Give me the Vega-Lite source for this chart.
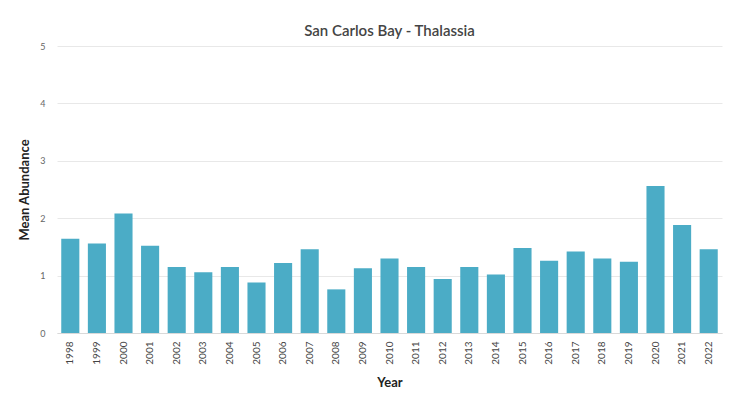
{
  "$schema": "https://vega.github.io/schema/vega-lite/v6.json",
  "width": 665,
  "height": 287,
  "autosize": "none",
  "padding": {"left": 57, "top": 46, "right": 13, "bottom": 65},
  "background": "white",
  "title": {
    "text": "San Carlos Bay - Thalassia",
    "font": "Lato",
    "fontSize": 15,
    "fontWeight": 600,
    "color": "#444444",
    "anchor": "middle",
    "offset": 3
  },
  "data": {
    "values": [
      {"Year": "1998", "Mean": 1.64},
      {"Year": "1999", "Mean": 1.56},
      {"Year": "2000", "Mean": 2.08},
      {"Year": "2001", "Mean": 1.52},
      {"Year": "2002", "Mean": 1.15},
      {"Year": "2003", "Mean": 1.06},
      {"Year": "2004", "Mean": 1.15},
      {"Year": "2005", "Mean": 0.88},
      {"Year": "2006", "Mean": 1.22},
      {"Year": "2007", "Mean": 1.46},
      {"Year": "2008", "Mean": 0.76},
      {"Year": "2009", "Mean": 1.13},
      {"Year": "2010", "Mean": 1.30},
      {"Year": "2011", "Mean": 1.15},
      {"Year": "2012", "Mean": 0.94},
      {"Year": "2013", "Mean": 1.15},
      {"Year": "2014", "Mean": 1.02},
      {"Year": "2015", "Mean": 1.48},
      {"Year": "2016", "Mean": 1.26},
      {"Year": "2017", "Mean": 1.42},
      {"Year": "2018", "Mean": 1.30},
      {"Year": "2019", "Mean": 1.24},
      {"Year": "2020", "Mean": 2.56},
      {"Year": "2021", "Mean": 1.88},
      {"Year": "2022", "Mean": 1.46}
    ]
  },
  "mark": {"type": "bar", "color": "#4BACC6"},
  "encoding": {
    "x": {
      "field": "Year",
      "type": "ordinal",
      "scale": {"paddingInner": 0.32, "paddingOuter": 0.16},
      "axis": {
        "title": "Year",
        "titleFont": "Lato",
        "titleFontSize": 13,
        "titleFontWeight": "bold",
        "titleColor": "#222222",
        "titlePadding": 12,
        "labelAngle": -90,
        "labelFont": "Lato",
        "labelFontSize": 10,
        "labelColor": "#444444",
        "labelPadding": 8,
        "ticks": false,
        "domainColor": "#d9d9d9",
        "grid": false
      }
    },
    "y": {
      "field": "Mean",
      "type": "quantitative",
      "scale": {"domain": [0, 5], "nice": false},
      "axis": {
        "title": "Mean Abundance",
        "titleFont": "Lato",
        "titleFontSize": 13,
        "titleFontWeight": "bold",
        "titleColor": "#222222",
        "titlePadding": 8,
        "values": [0, 1, 2, 3, 4, 5],
        "labelFont": "Lato",
        "labelFontSize": 9,
        "labelColor": "#666666",
        "labelPadding": 12,
        "ticks": false,
        "domain": false,
        "gridColor": "#e8e8e8"
      }
    }
  },
  "config": {"view": {"stroke": null}}
}
